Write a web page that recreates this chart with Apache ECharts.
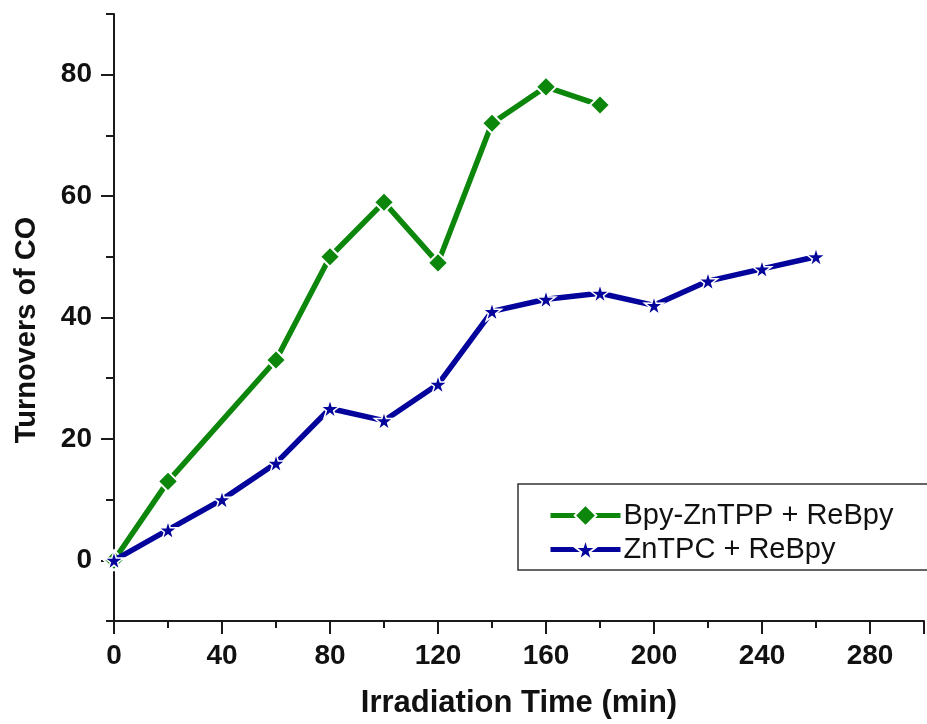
<!DOCTYPE html>
<html>
<head>
<meta charset="utf-8">
<script src="https://cdn.jsdelivr.net/npm/echarts@6/dist/echarts.min.js"></script>
<style>
html,body{margin:0;padding:0;background:#fff;}
#chart{width:927px;height:724px;}
</style>
</head>
<body>
<div id="chart"></div>
<script>
// ---- data ----
const greenName = 'Bpy-ZnTPP + ReBpy';
const blueName = 'ZnTPC + ReBpy';
const xGreen = [0, 20, 60, 80, 100, 120, 140, 160, 180];
const yGreen = [0, 13, 33, 50, 59, 49, 72, 78, 75];
const xBlue = [0, 20, 40, 60, 80, 100, 120, 140, 160, 180, 200, 220, 240, 260];
const yBlue = [0, 5, 10, 16, 25, 23, 29, 41, 43, 44, 42, 46, 48, 50];
const yMajorTicks = [0, 20, 40, 60, 80];
const yMinorTicks = [-10, 10, 30, 50, 70, 90];
const xTitle = 'Irradiation Time (min)';
const yTitle = 'Turnovers of CO';

const starPath = 'path://M50 0 L61.17 34.63 L97.55 34.55 L68.07 55.87 L79.39 90.45 L50 69 L20.61 90.45 L31.93 55.87 L2.45 34.55 L38.83 34.63 Z';
const green = '#0c870c';
const blue = '#04049c';
const axisColor = '#1a1a1a';
const font = '"Liberation Sans", Arial, sans-serif';

const chart = echarts.init(document.getElementById('chart'), null, {renderer: 'canvas'});
const option = {
  backgroundColor: '#fff',
  animation: false,
  grid: {left: 114, top: 14, width: 821, height: 607.7, containLabel: false},
  xAxis: {
    type: 'value', min: 0, max: 300, interval: 40,
    name: xTitle, nameLocation: 'middle', nameGap: 67,
    nameTextStyle: {fontFamily: font, fontWeight: 'bold', fontSize: 31, color: '#111'},
    axisLine: {show: true, onZero: false, lineStyle: {color: axisColor, width: 2}},
    axisTick: {show: true, length: 13, lineStyle: {color: axisColor, width: 2}},
    minorTick: {show: true, splitNumber: 2, length: 7, lineStyle: {color: axisColor, width: 2}},
    axisLabel: {fontFamily: font, fontWeight: 'bold', fontSize: 28, color: '#111', margin: 21,
      formatter: v => (v <= 280 ? String(v) : '')},
    splitLine: {show: false}
  },
  yAxis: [{
    type: 'value', min: -10, max: 90, interval: 10, position: 'left',
    axisLine: {show: true, onZero: false, lineStyle: {color: axisColor, width: 2}},
    axisTick: {show: true, length: 13, customValues: yMajorTicks, lineStyle: {color: axisColor, width: 2}},
    axisLabel: {fontFamily: font, fontWeight: 'bold', fontSize: 28, color: '#111', margin: 22,
      customValues: yMajorTicks},
    splitLine: {show: false}
  }, {
    type: 'value', min: -10, max: 90, interval: 10, position: 'left', offset: 0,
    axisLine: {show: false, onZero: false},
    axisTick: {show: true, length: 8, customValues: yMinorTicks, lineStyle: {color: axisColor, width: 2}},
    axisLabel: {show: false},
    splitLine: {show: false}
  }],
  legend: {
    orient: 'vertical', left: 518, top: 484,
    padding: [17, 200, 6, 30], itemGap: 5,
    itemWidth: 70, itemHeight: 27,
    borderColor: '#333', borderWidth: 1.5,
    lineStyle: {width: 5},
    textStyle: {fontFamily: font, fontSize: 29, color: '#111', padding: [0, 0, 0, -2]},
    data: [greenName, blueName]
  },
  graphic: [{
    type: 'text', x: 27, y: 330, rotation: Math.PI / 2,
    style: {text: yTitle, fontFamily: font, fontWeight: 'bold', fontSize: 29, fill: '#111',
      align: 'center', verticalAlign: 'middle'}
  }],
  series: [{
    name: greenName, type: 'line', yAxisIndex: 0,
    data: xGreen.map((x, i) => [x, yGreen[i]]),
    symbol: 'diamond', symbolSize: 20,
    lineStyle: {color: green, width: 5.5},
    itemStyle: {color: green, borderColor: '#fff', borderWidth: 2},
    z: 3
  }, {
    name: blueName, type: 'line', yAxisIndex: 0,
    data: xBlue.map((x, i) => [x, yBlue[i]]),
    symbol: starPath, symbolSize: 19,
    lineStyle: {color: blue, width: 5.5},
    itemStyle: {color: blue, borderColor: '#fff', borderWidth: 1.5},
    z: 4
  }]
};
chart.setOption(option);
</script>
</body>
</html>
